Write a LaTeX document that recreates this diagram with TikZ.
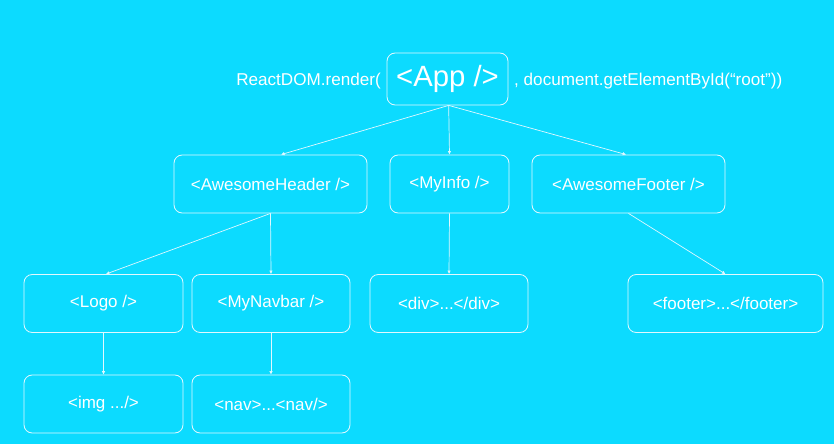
\documentclass[tikz,border=0pt]{standalone}
\usepackage{fontspec}
\setmainfont{Liberation Sans}
\usepackage{tikz}
\usetikzlibrary{arrows.meta}

\definecolor{reactbg}{RGB}{12,219,255}
\definecolor{reactline}{RGB}{225,248,255}

\begin{document}
\begin{tikzpicture}[x=0.03cm,y=-0.03cm,
        comp/.style={draw=reactline,line width=0.7pt,rounded corners=7pt,
            text=white,minimum height=58*0.03cm,inner sep=0pt,
            font=\fontsize{14.5}{16}\selectfont},
        plain/.style={text=white,inner sep=0pt,font=\fontsize{14.6}{16}\selectfont},
        link/.style={draw=reactline,line width=0.6pt,-{Latex[length=3pt,width=3pt]}}]
        \fill[reactbg] (0,0) rectangle (834,444);
        \useasboundingbox (0,0) rectangle (834,444);
        \node[comp,minimum width=121*0.03cm,minimum height=52*0.03cm,
            font=\fontsize{25}{27}\selectfont] (app) at (447.5,79) {<App />};
        \node[plain,anchor=east] (render) at (381,81.5) {ReactDOM.render(};
        \node[plain,anchor=west] (root) at (514,81.5) {, document.getElementById(“root”))};
        \node[comp,minimum width=193*0.03cm] (hdr) at (270.5,184) {<AwesomeHeader />};
        \node[comp,minimum width=119*0.03cm] (info) at (449.5,184) {<MyInfo />};
        \node[comp,minimum width=193*0.03cm] (foot) at (628.5,184) {<AwesomeFooter />};
        \node[comp,minimum width=159*0.03cm] (logo) at (103.5,303.5) {<Logo />};
        \node[comp,minimum width=158*0.03cm] (navbar) at (271,303.5) {<MyNavbar />};
        \node[comp,minimum width=158*0.03cm] (div) at (449,303.5) {<div>...</div>};
        \node[comp,minimum width=195*0.03cm] (footer) at (725.5,303.5) {<footer>...</footer>};
        \node[comp,minimum width=159*0.03cm] (img) at (103.5,404) {<img .../>};
        \node[comp,minimum width=158*0.03cm] (nav) at (271,404) {<nav>...<nav/>};
        \draw[link] ([xshift=1pt]app.south) -- ([xshift=9pt]hdr.north);
        \draw[link] ([xshift=1pt]app.south) -- (info.north);
        \draw[link] ([xshift=1pt]app.south) -- ([xshift=-2pt]foot.north);
        \draw[link] (hdr.south) -- ([xshift=2pt]logo.north);
        \draw[link] (hdr.south) -- (navbar.north);
        \draw[link] (info.south) -- (div.north);
        \draw[link] (foot.south) -- (footer.north);
        \draw[link] (logo.south) -- (img.north);
        \draw[link] (navbar.south) -- (nav.north);
    \end{tikzpicture}
\end{document}
